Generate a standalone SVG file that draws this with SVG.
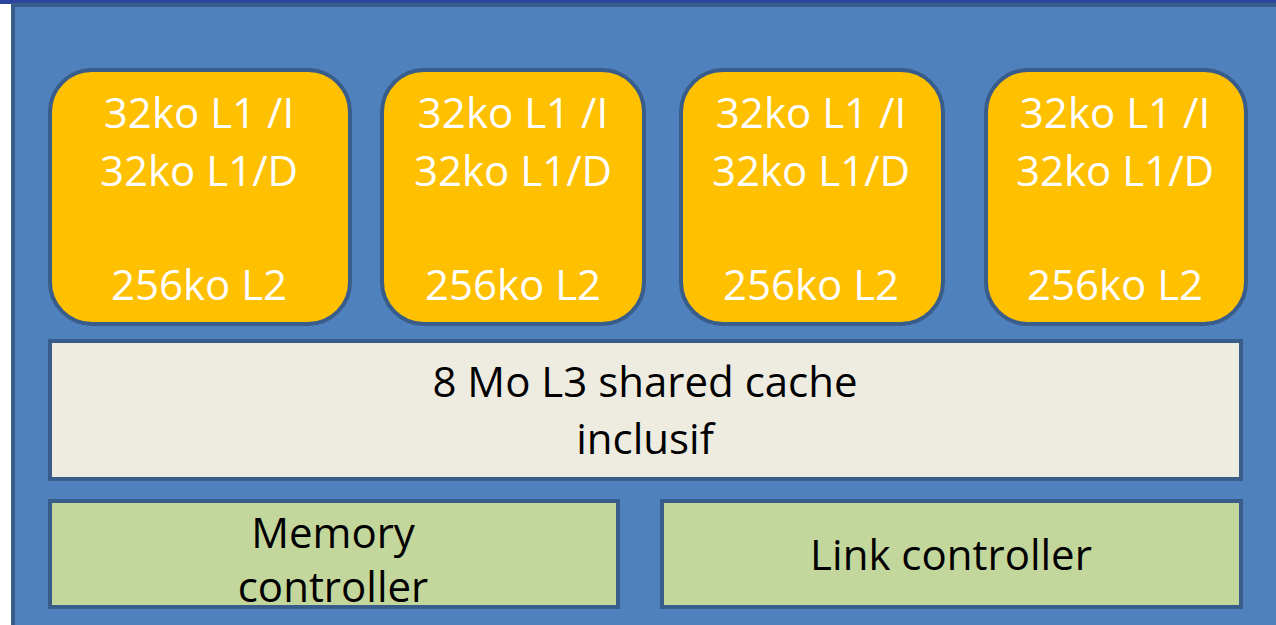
<svg xmlns="http://www.w3.org/2000/svg" width="1276" height="625" viewBox="0 0 1276 625">
  <style>
    .core { fill: #ffc000; stroke: #385d8a; stroke-width: 4; }
    .l3 { fill: #eeece1; stroke: #385d8a; stroke-width: 4; }
    .ctl { fill: #c3d69b; stroke: #385d8a; stroke-width: 4; }
    .wt { fill: #ffffff; font-family: "Open Sans", "Liberation Sans", sans-serif; font-size: 42px; text-anchor: middle; }
    .bt { fill: #000000; font-family: "Open Sans", "Liberation Sans", sans-serif; font-size: 42px; text-anchor: middle; }
  </style>
  <rect x="0" y="0" width="1276" height="625" fill="#ffffff"/>
  <!-- chip die -->
  <g id="die">
    <rect x="0" y="0" width="1276" height="4" fill="#2c46a0"/>
    <rect x="13" y="5" width="1275" height="640" fill="#4f81bd" stroke="#385d8a" stroke-width="4"/>
  </g>
  <!-- cores with private caches -->
  <g id="core1">
    <rect class="core" x="50" y="70" width="300" height="254" rx="42"/>
    <text class="wt" x="199" y="128">32ko L1 /I</text>
    <text class="wt" x="199" y="186">32ko L1/D</text>
    <text class="wt" x="199" y="300">256ko L2</text>
  </g>
  <g id="core2">
    <rect class="core" x="382" y="70" width="262" height="254" rx="42"/>
    <text class="wt" x="513" y="128">32ko L1 /I</text>
    <text class="wt" x="513" y="186">32ko L1/D</text>
    <text class="wt" x="513" y="300">256ko L2</text>
  </g>
  <g id="core3">
    <rect class="core" x="681" y="70" width="262" height="254" rx="42"/>
    <text class="wt" x="811" y="128">32ko L1 /I</text>
    <text class="wt" x="811" y="186">32ko L1/D</text>
    <text class="wt" x="811" y="300">256ko L2</text>
  </g>
  <g id="core4">
    <rect class="core" x="986" y="70" width="260" height="254" rx="42"/>
    <text class="wt" x="1115" y="128">32ko L1 /I</text>
    <text class="wt" x="1115" y="186">32ko L1/D</text>
    <text class="wt" x="1115" y="300">256ko L2</text>
  </g>
  <!-- shared last level cache -->
  <g id="l3">
    <rect class="l3" x="50" y="341" width="1191" height="138"/>
    <text class="bt" x="645" y="397">8 Mo L3 shared cache</text>
    <text class="bt" x="645" y="454">inclusif</text>
  </g>
  <!-- uncore controllers -->
  <g id="memctl">
    <rect class="ctl" x="50" y="501" width="568" height="106"/>
    <text class="bt" x="333" y="548">Memory</text>
    <text class="bt" x="333" y="602">controller</text>
  </g>
  <g id="linkctl">
    <rect class="ctl" x="662" y="501" width="579" height="106"/>
    <text class="bt" x="951" y="570">Link controller</text>
  </g>
  <g id="connectors"/>
</svg>
